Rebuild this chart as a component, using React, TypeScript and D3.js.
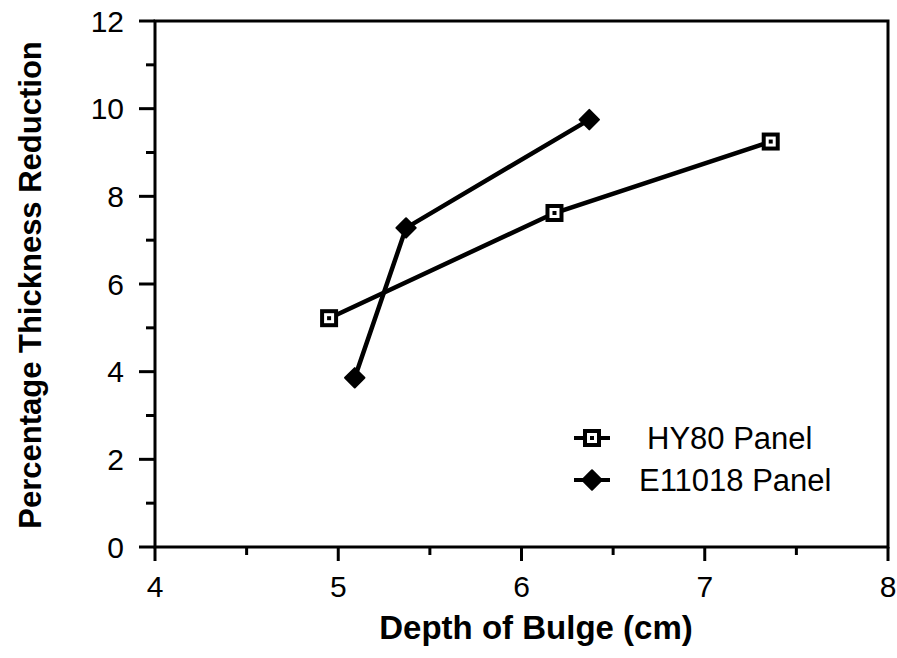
import React, { useEffect, useRef } from "react";
import * as d3 from "d3";

// HY80 panel (open squares)
const hy80Depth = [4.95, 6.18, 7.36];
const hy80Reduction = [5.22, 7.62, 9.25];
// E11018 panel (filled diamonds)
const e11018Depth = [5.09, 5.37, 6.37];
const e11018Reduction = [3.86, 7.28, 9.75];

const seriesNames = ["HY80 Panel", "E11018 Panel"];
const xTicks = [4, 5, 6, 7, 8];
const yTicks = [0, 2, 4, 6, 8, 10, 12];

export default function App() {
  const ref = useRef<SVGSVGElement>(null);

  useEffect(() => {
    const svg = d3.select(ref.current);
    svg.selectAll("*").remove();

    const left = 155, right = 888, top = 21, bottom = 547;
    const x = d3.scaleLinear().domain([4, 8]).range([left, right]);
    const y = d3.scaleLinear().domain([0, 12]).range([bottom, top]);
    const font = "'Liberation Sans', Arial, sans-serif";

    // frame
    svg.append("rect")
      .attr("x", left).attr("y", top)
      .attr("width", right - left).attr("height", bottom - top)
      .attr("fill", "none").attr("stroke", "#000").attr("stroke-width", 3);

    // y axis ticks
    const yMinor = d3.range(1, 12, 2);
    svg.selectAll(".ymaj").data(yTicks).enter().append("line")
      .attr("x1", left - 16).attr("x2", left)
      .attr("y1", d => y(d)).attr("y2", d => y(d))
      .attr("stroke", "#000").attr("stroke-width", 3);
    svg.selectAll(".ymin").data(yMinor).enter().append("line")
      .attr("x1", left - 9).attr("x2", left)
      .attr("y1", d => y(d)).attr("y2", d => y(d))
      .attr("stroke", "#000").attr("stroke-width", 3);
    svg.selectAll(".ylab").data(yTicks).enter().append("text")
      .attr("x", left - 31).attr("y", d => y(d))
      .attr("dy", "0.36em")
      .attr("text-anchor", "end")
      .style("font-family", font).style("font-size", "30px")
      .text(d => d);

    // x axis ticks
    const xMinor = [4.5, 5.5, 6.5, 7.5];
    svg.selectAll(".xmaj").data(xTicks).enter().append("line")
      .attr("x1", d => x(d)).attr("x2", d => x(d))
      .attr("y1", bottom).attr("y2", bottom + 14)
      .attr("stroke", "#000").attr("stroke-width", 3);
    svg.selectAll(".xmin").data(xMinor).enter().append("line")
      .attr("x1", d => x(d)).attr("x2", d => x(d))
      .attr("y1", bottom).attr("y2", bottom + 8)
      .attr("stroke", "#000").attr("stroke-width", 3);
    svg.selectAll(".xlab").data(xTicks).enter().append("text")
      .attr("x", d => x(d)).attr("y", 597)
      .attr("text-anchor", "middle")
      .style("font-family", font).style("font-size", "30px")
      .text(d => d);

    // axis titles
    svg.append("text")
      .attr("x", 536).attr("y", 639)
      .attr("text-anchor", "middle")
      .style("font-family", font).style("font-size", "33px").style("font-weight", "bold")
      .text("Depth of Bulge (cm)");
    svg.append("text")
      .attr("transform", `translate(41,285) rotate(-90)`)
      .attr("text-anchor", "middle")
      .style("font-family", font).style("font-size", "31px").style("font-weight", "bold")
      .text("Percentage Thickness Reduction");

    const line = d3.line<[number, number]>().x(d => x(d[0])).y(d => y(d[1]));
    const hy = hy80Depth.map((d, i) => [d, hy80Reduction[i]] as [number, number]);
    const e1 = e11018Depth.map((d, i) => [d, e11018Reduction[i]] as [number, number]);

    [hy, e1].forEach(pts => {
      svg.append("path").attr("d", line(pts))
        .attr("fill", "none").attr("stroke", "#000").attr("stroke-width", 4.5);
    });

    const square = (g: any, cx: number, cy: number) => {
      g.append("rect").attr("x", cx - 7).attr("y", cy - 7).attr("width", 14).attr("height", 14)
        .attr("fill", "#fff").attr("stroke", "#000").attr("stroke-width", 4);
      g.append("rect").attr("x", cx - 2).attr("y", cy - 2).attr("width", 4).attr("height", 4)
        .attr("fill", "#000");
    };
    const diamond = (g: any, cx: number, cy: number) => {
      g.append("path")
        .attr("d", d3.symbol().type(d3.symbolDiamond2).size(240)())
        .attr("transform", `translate(${cx},${cy})`)
        .attr("fill", "#000").attr("stroke", "#000").attr("stroke-width", 2)
        .attr("stroke-linejoin", "round");
    };

    hy.forEach(p => square(svg, x(p[0]), y(p[1])));
    e1.forEach(p => diamond(svg, x(p[0]), y(p[1])));

    // legend
    const legX = 592, legY = [438, 480];
    legY.forEach((ly, i) => {
      svg.append("line").attr("x1", legX - 18).attr("x2", legX + 18)
        .attr("y1", ly).attr("y2", ly).attr("stroke", "#000").attr("stroke-width", 4);
      if (i === 0) square(svg, legX, ly); else diamond(svg, legX, ly);
      svg.append("text")
        .attr("x", i === 0 ? 647 : 639).attr("y", ly).attr("dy", "0.36em")
        .style("font-family", font).style("font-size", "31px")
        .text(seriesNames[i]);
    });
  }, []);

  return (
    <svg ref={ref} width={897} height={658}
      style={{ position: "absolute", left: 0, top: 0, background: "#fff" }} />
  );
}
